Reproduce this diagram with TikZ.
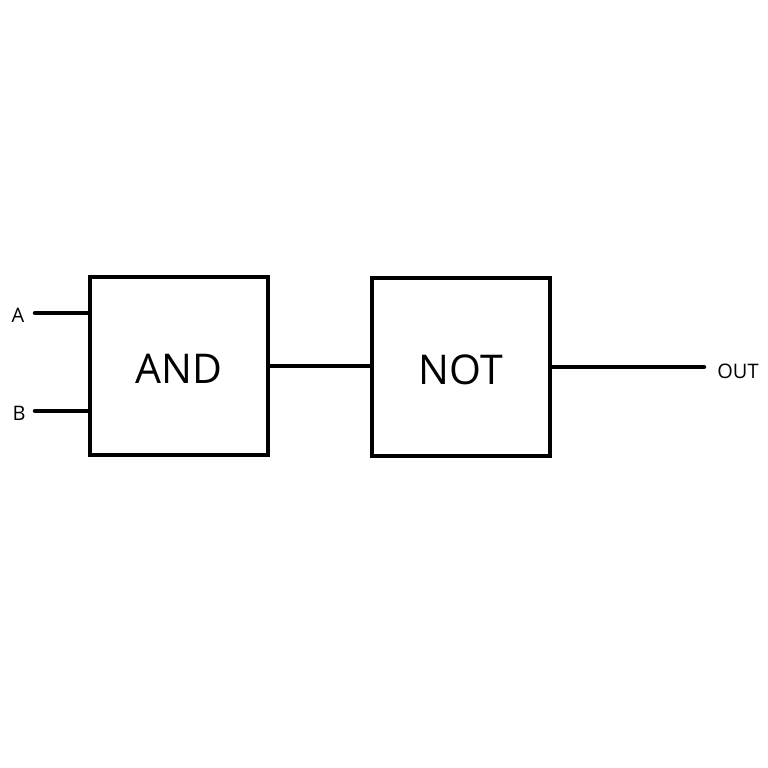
\documentclass[tikz,border=0pt]{standalone}
\usepackage{fontspec}
\setmainfont{Open Sans}
\begin{document}
\begin{tikzpicture}[x=1pt,y=-1pt,
  gate/.style={draw,line width=4.5pt,minimum width=178pt,minimum height=178pt,inner sep=0pt,text height=35pt,text depth=0pt,font=\fontsize{41}{48}\selectfont},
  wire/.style={line width=4.5pt,line cap=round},
  lbl/.style={font=\fontsize{20}{24}\selectfont,inner sep=0pt}]
\useasboundingbox[fill=white] (0,0) rectangle (768,768);
\node[gate] (and) at (179,366) {AND};
\node[gate] (not) at (461,367) {NOT};
\node[lbl] (a) at (18,315) {A};
\node[lbl] (b) at (19,413) {B};
\node[lbl] (out) at (738,371) {OUT};
\coordinate (ae) at (35,313);
\coordinate (be) at (35,411);
\coordinate (oe) at (704,367);
\draw[wire] (ae) -- (ae -| and.west);
\draw[wire] (be) -- (be -| and.west);
\draw[wire] (and.east) -- (and.east -| not.west);
\draw[wire] (not.east) -- (oe);
\end{tikzpicture}
\end{document}
